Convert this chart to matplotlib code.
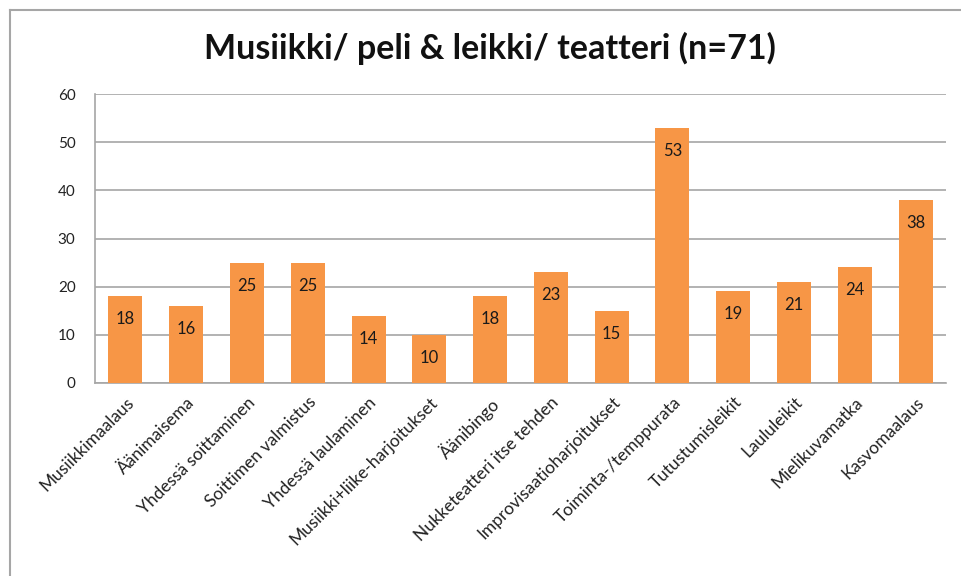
import matplotlib.pyplot as plt
from matplotlib.lines import Line2D

categories = ["Musiikkimaalaus", "Äänimaisema", "Yhdessä soittaminen", "Soittimen valmistus",
              "Yhdessä laulaminen", "Musiikki+liike-harjoitukset", "Äänibingo",
              "Nukketeatteri itse tehden", "Improvisaatioharjoitukset", "Toiminta-/temppurata",
              "Tutustumisleikit", "Laululeikit", "Mielikuvamatka", "Kasvomaalaus"]
values = [18, 16, 25, 25, 14, 10, 18, 23, 15, 53, 19, 21, 24, 38]
yticks = [0, 10, 20, 30, 40, 50, 60]

plt.rcParams['font.family'] = ['Lato', 'DejaVu Sans']

fig = plt.figure(figsize=(9.62, 5.76), dpi=100)
ax = fig.add_axes([95/962, 1 - 383/576, (946 - 95)/962, (383 - 94)/576])

x = range(len(categories))
bars = ax.bar(x, values, width=0.56, color="#F79646", zorder=3)
for b, v in zip(bars, values):
    ax.annotate(str(v), (b.get_x() + b.get_width()/2, v), xytext=(0, -23),
                textcoords="offset pixels", ha="center", va="center",
                fontsize=12, color="#1a1a1a", zorder=4)

ax.set_xlim(-0.5, len(categories) - 0.5)
ax.set_ylim(0, 60)
ax.set_yticks(yticks)
ax.yaxis.grid(True, color="#A6A6A6", linewidth=1.2, zorder=0)
ax.set_xticks(list(x))
ax.set_xticklabels(categories, rotation=45, ha="right", rotation_mode="anchor", fontsize=12.5)
ax.tick_params(axis="y", length=0, pad=14, labelsize=11, labelcolor="#222222")
ax.tick_params(axis="x", length=0, pad=8, labelcolor="#222222")
for s in ["top", "right"]:
    ax.spines[s].set_visible(False)
ax.spines["left"].set_color("#A6A6A6")
ax.spines["bottom"].set_color("#A6A6A6")
ax.spines["left"].set_linewidth(1.2)
ax.spines["bottom"].set_linewidth(1.2)

fig.text(490/962, 1 - 48/576, "Musiikki/ peli & leikki/ teatteri (n=71)",
         ha="center", va="center", fontsize=24.5, fontweight="bold", color="#111111")

# outer chart border
fig.add_artist(Line2D([10/962, 10/962], [0, 1 - 10/576], color="#A6A6A6", linewidth=1.5))
fig.add_artist(Line2D([10/962, 1], [1 - 10/576, 1 - 10/576], color="#A6A6A6", linewidth=1.5))

fig.savefig("out.png", dpi=100)
